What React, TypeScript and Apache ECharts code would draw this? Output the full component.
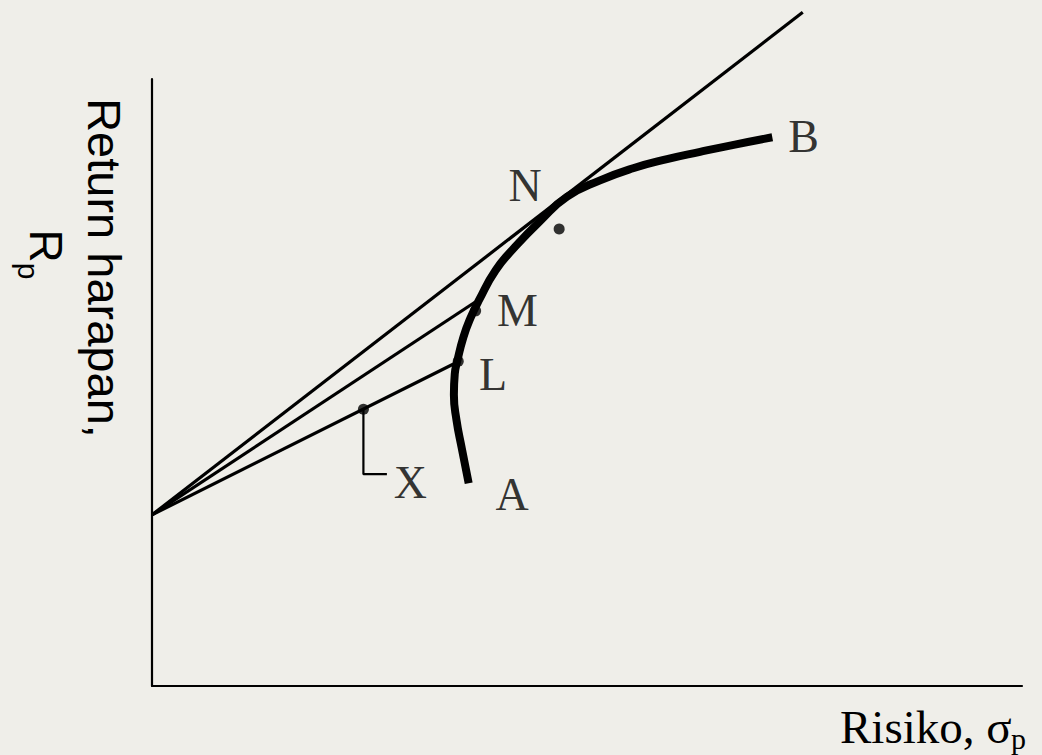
import React, { useEffect, useRef } from "react";
import * as echarts from "echarts";

// Risk-free return where all capital allocation lines start (risk = 0)
const riskFreeReturn = 28.2;

// Efficient frontier curve A -> B
const frontierRisk = [36.4, 35.6, 35.0, 34.7, 34.8, 35.1, 35.8, 36.6, 37.6, 39.5, 41.7, 44.6, 47.7, 51.5, 55.3, 59.2, 63.0, 67.0, 71.3];
const frontierReturn = [33.4, 39.2, 43.8, 48.0, 51.4, 53.6, 57.5, 60.6, 63.6, 68.5, 72.3, 76.6, 80.6, 83.3, 85.3, 86.8, 88.0, 89.2, 90.4];

// Lines from the risk-free point (through N, M, L)
const lineNames = ["N", "M", "L"];
const lineEndRisk = [74.8, 37.2, 35.0];
const lineEndReturn = [111.0, 63.3, 53.3];

// Marked portfolios
const dotNames = ["N", "M", "L", "X"];
const dotRisk = [46.8, 37.2, 35.2, 24.3];
const dotReturn = [75.3, 61.8, 53.5, 45.6];

// Point labels
const labelTexts = ["N", "M", "L", "X", "A", "B"];
const labelRisk = [42.9, 42.0, 39.2, 29.7, 41.4, 74.9];
const labelReturn = [82.5, 61.8, 51.4, 33.6, 31.5, 90.6];

// Leader from X dot to its label
const bracketRisk = [24.3, 24.3, 27.0];
const bracketReturn = [45.6, 34.9, 34.9];

const SERIF = "'Liberation Serif', 'Times New Roman', serif";
const SANS = "'Liberation Sans', Arial, sans-serif";

export default function App() {
  const ref = useRef<HTMLDivElement>(null);

  useEffect(() => {
    if (!ref.current) return;
    const chart = echarts.init(ref.current, undefined, { renderer: "svg" });

    const lineSeries = lineNames.map((name, i) => ({
      type: "line",
      name: "CAL " + name,
      data: [
        [0, riskFreeReturn],
        [lineEndRisk[i], lineEndReturn[i]],
      ],
      symbol: "none",
      clip: false,
      lineStyle: { color: "#000", width: 3.2 },
      z: 3,
    }));

    const option: any = {
      animation: false,
      backgroundColor: "#efeee9",
      grid: { left: 152, top: 79, right: 20, bottom: 69, outerBoundsMode: "none" },
      xAxis: {
        type: "value",
        min: 0,
        max: 100,
        axisLine: { show: true, onZero: false, lineStyle: { color: "#000", width: 2.2 } },
        axisTick: { show: false },
        axisLabel: { show: false },
        splitLine: { show: false },
      },
      yAxis: {
        type: "value",
        min: 0,
        max: 100,
        axisLine: { show: true, onZero: false, lineStyle: { color: "#000", width: 2.2 } },
        axisTick: { show: false },
        axisLabel: { show: false },
        splitLine: { show: false },
      },
      series: [
        ...lineSeries,
        {
          type: "line",
          name: "Frontier",
          data: frontierRisk.map((r, i) => [r, frontierReturn[i]]),
          symbol: "none",
          smooth: 0.5,
          clip: false,
          lineStyle: { color: "#000", width: 8, cap: "butt" },
          z: 4,
        },
        {
          type: "line",
          name: "X leader",
          data: bracketRisk.map((r, i) => [r, bracketReturn[i]]),
          symbol: "none",
          lineStyle: { color: "#000", width: 2.2 },
          z: 3,
        },
        {
          type: "scatter",
          name: "Portfolios",
          data: dotRisk.map((r, i) => ({ name: dotNames[i], value: [r, dotReturn[i]] })),
          symbol: "circle",
          symbolSize: 11,
          itemStyle: { color: "#000" },
          z: 6,
        },
        {
          type: "scatter",
          name: "Labels",
          data: labelRisk.map((r, i) => ({ name: labelTexts[i], value: [r, labelReturn[i]] })),
          symbolSize: 1,
          itemStyle: { color: "rgba(0,0,0,0)" },
          label: {
            show: true,
            position: "inside",
            formatter: (p: any) => p.name,
            fontFamily: SERIF,
            fontSize: 46,
            color: "#000",
            align: "center",
            verticalAlign: "middle",
          },
          z: 7,
        },
      ],
      graphic: [
        {
          type: "text",
          x: 840,
          y: 727,
          style: {
            text: "Risiko, σ",
            fontFamily: SERIF,
            fontSize: 47,
            fill: "#000",
            align: "left",
            verticalAlign: "middle",
          },
        },
        {
          type: "text",
          x: 1011,
          y: 738,
          style: {
            text: "p",
            fontFamily: SERIF,
            fontSize: 30,
            fill: "#000",
            align: "left",
            verticalAlign: "middle",
          },
        },
        {
          type: "text",
          x: 104,
          y: 268,
          rotation: -Math.PI / 2,
          style: {
            text: "Return harapan,",
            fontFamily: SANS,
            fontSize: 47,
            fill: "#000",
            align: "center",
            verticalAlign: "middle",
          },
        },
        {
          type: "text",
          x: 46,
          y: 246,
          rotation: -Math.PI / 2,
          style: {
            text: "R",
            fontFamily: SANS,
            fontSize: 46,
            fill: "#000",
            align: "center",
            verticalAlign: "middle",
          },
        },
        {
          type: "text",
          x: 28,
          y: 271,
          rotation: -Math.PI / 2,
          style: {
            text: "p",
            fontFamily: SANS,
            fontSize: 30,
            fill: "#000",
            align: "center",
            verticalAlign: "middle",
          },
        },
      ],
    };

    chart.setOption(option);
    return () => chart.dispose();
  }, []);

  return (
    <div
      ref={ref}
      style={{ position: "fixed", left: 0, top: 0, width: 1042, height: 755 }}
    />
  );
}
